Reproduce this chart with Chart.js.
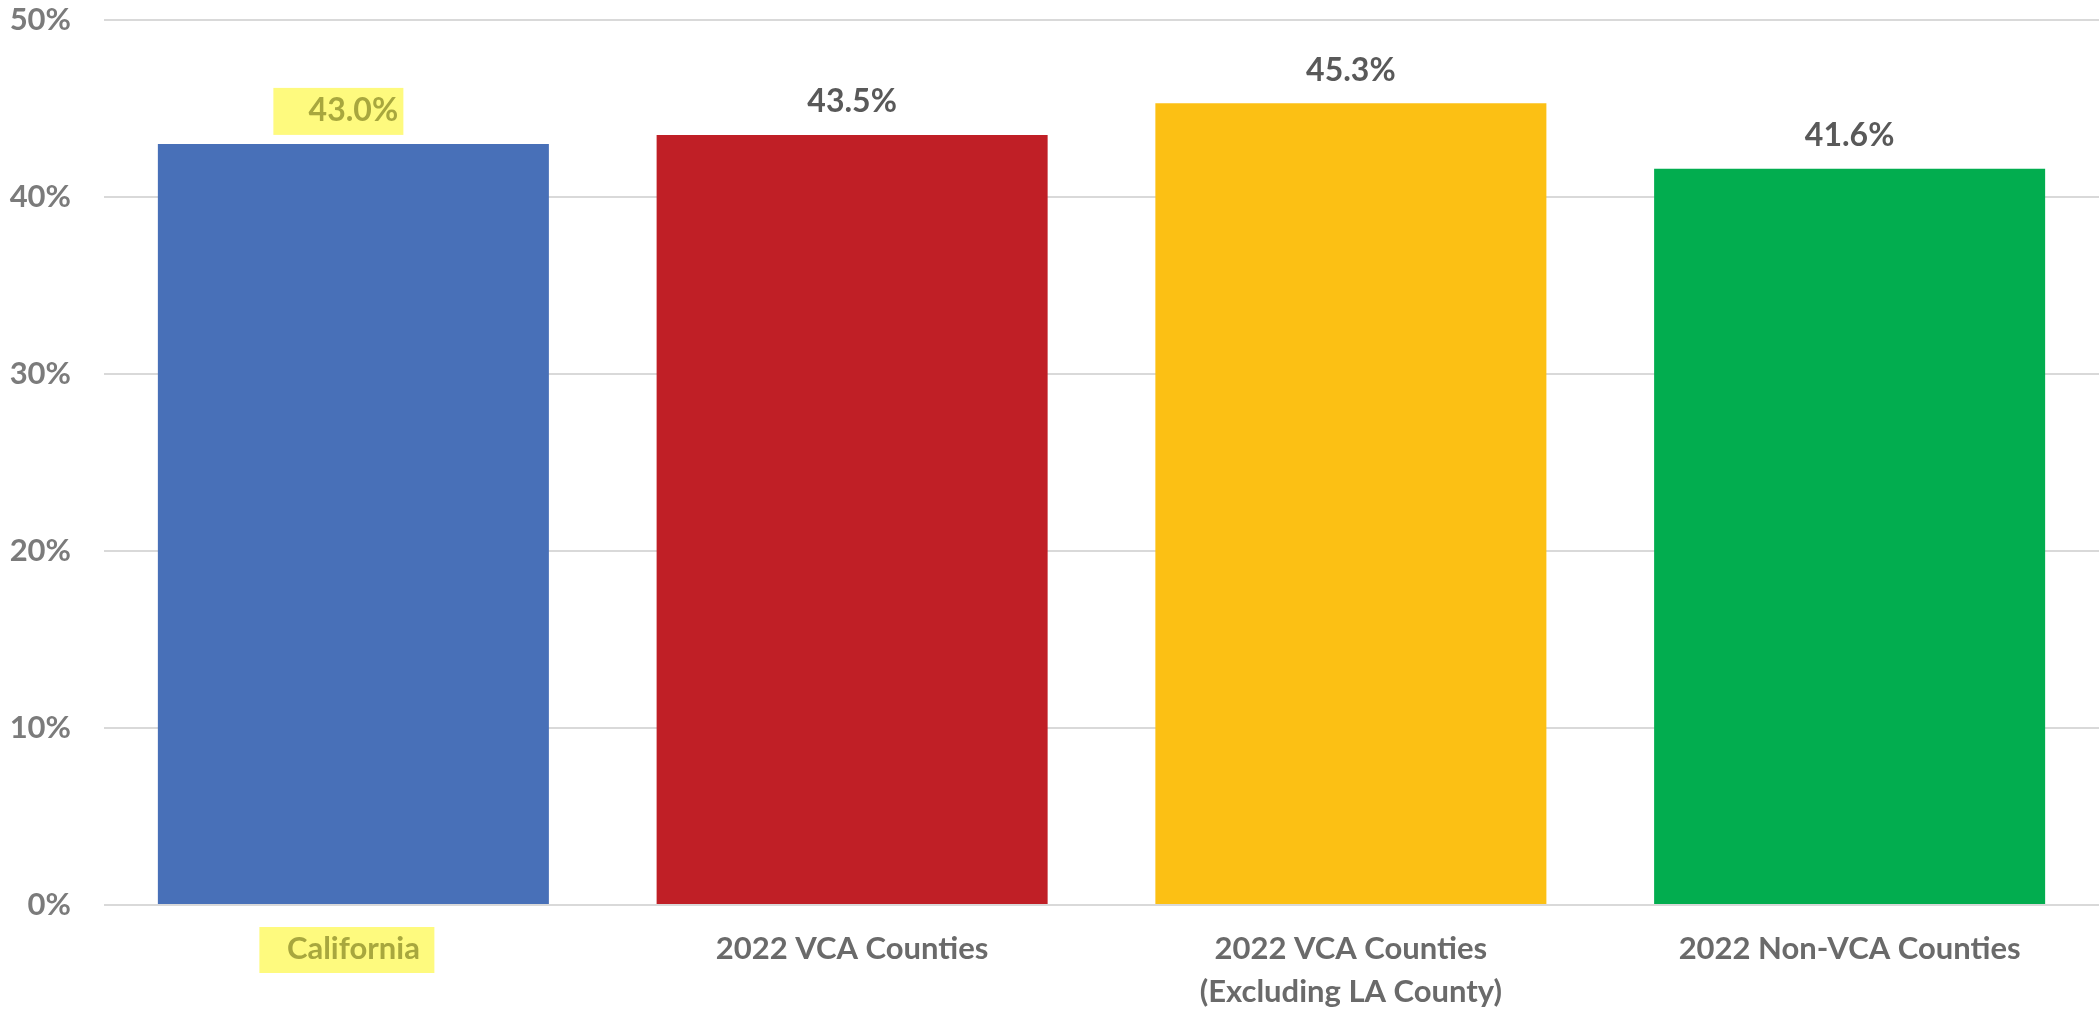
<!DOCTYPE html>
<html>
<head>
<meta charset="utf-8">
<title>Turnout by county group</title>
<script src="https://cdn.jsdelivr.net/npm/chart.js@4.4.1/dist/chart.umd.min.js"></script>
<style>
  html, body { margin: 0; padding: 0; background: #ffffff; }
  #wrap { width: 2099px; height: 1012px; }
</style>
</head>
<body>
<div id="wrap"><canvas id="turnoutChart" width="2099" height="1012"></canvas></div>
<script>
// categories and turnout values (percent)
const groups = ['California', '2022 VCA Counties', ['2022 VCA Counties', '(Excluding LA County)'], '2022 Non-VCA Counties'];
const turnout = [43.0, 43.5, 45.3, 41.6];
const barColors = ['#4870b8', '#c01f26', '#fcc014', '#02ad4f'];
const yTicks = [0, 10, 20, 30, 40, 50];
const highlighted = 0; // California is marked with a yellow highlighter

const FONT = 'Lato, "Open Sans", sans-serif';
const MARKER = '#fefa7e';
const MARKED_TEXT = '#a8a73e';

// yellow box behind the California axis label
const markTick = {
  id: 'markTick',
  beforeDraw(chart) {
    const ctx = chart.ctx;
    const x = chart.scales.x.getPixelForValue(highlighted);
    ctx.save();
    ctx.fillStyle = MARKER;
    ctx.fillRect(x - 94, 927, 175, 46);
    ctx.restore();
  }
};

// value labels above each bar
const valueLabels = {
  id: 'valueLabels',
  afterDatasetsDraw(chart) {
    const ctx = chart.ctx;
    const meta = chart.getDatasetMeta(0);
    ctx.save();
    ctx.font = 'bold 32px ' + FONT;
    ctx.textAlign = 'center';
    ctx.textBaseline = 'middle';
    meta.data.forEach((bar, i) => {
      const y = bar.y - 33;
      if (i === highlighted) {
        ctx.fillStyle = MARKER;
        ctx.fillRect(bar.x - 80, y - 23, 130, 47);
        ctx.fillStyle = MARKED_TEXT;
      } else {
        ctx.fillStyle = '#595959';
      }
      ctx.fillText(turnout[i].toFixed(1) + '%', bar.x, y);
    });
    ctx.restore();
  }
};

new Chart(document.getElementById('turnoutChart'), {
  type: 'bar',
  data: {
    labels: groups,
    datasets: [{
      data: turnout,
      backgroundColor: barColors,
      borderWidth: 0,
      barPercentage: 0.784,
      categoryPercentage: 1
    }]
  },
  options: {
    responsive: false,
    animation: false,
    layout: { padding: { top: 20, right: 0, bottom: 0, left: 0 } },
    plugins: {
      legend: { display: false },
      tooltip: { enabled: false }
    },
    scales: {
      x: {
        grid: { display: false },
        border: { display: false },
        afterFit(scale) { scale.height = 107; },
        ticks: {
          padding: 14,
          maxRotation: 0,
          autoSkip: false,
          color: (c) => c.index === highlighted ? MARKED_TEXT : '#6a6a6a',
          font: { family: FONT, size: 31, weight: 'bold', lineHeight: 1.4 }
        }
      },
      y: {
        min: 0,
        max: 50,
        afterFit(scale) {
          scale.width = 104;
          scale.paddingTop = 0;
          scale.paddingBottom = 0;
        },
        afterBuildTicks(scale) { scale.ticks = yTicks.map(v => ({ value: v })); },
        grid: { color: '#d9d9d9', lineWidth: 2, drawTicks: false },
        border: { display: false },
        ticks: {
          padding: 33,
          color: '#7b7b7b',
          font: { family: FONT, size: 31, weight: 'bold' },
          callback: (v) => v + '%'
        }
      }
    }
  },
  plugins: [markTick, valueLabels]
});
</script>
</body>
</html>
